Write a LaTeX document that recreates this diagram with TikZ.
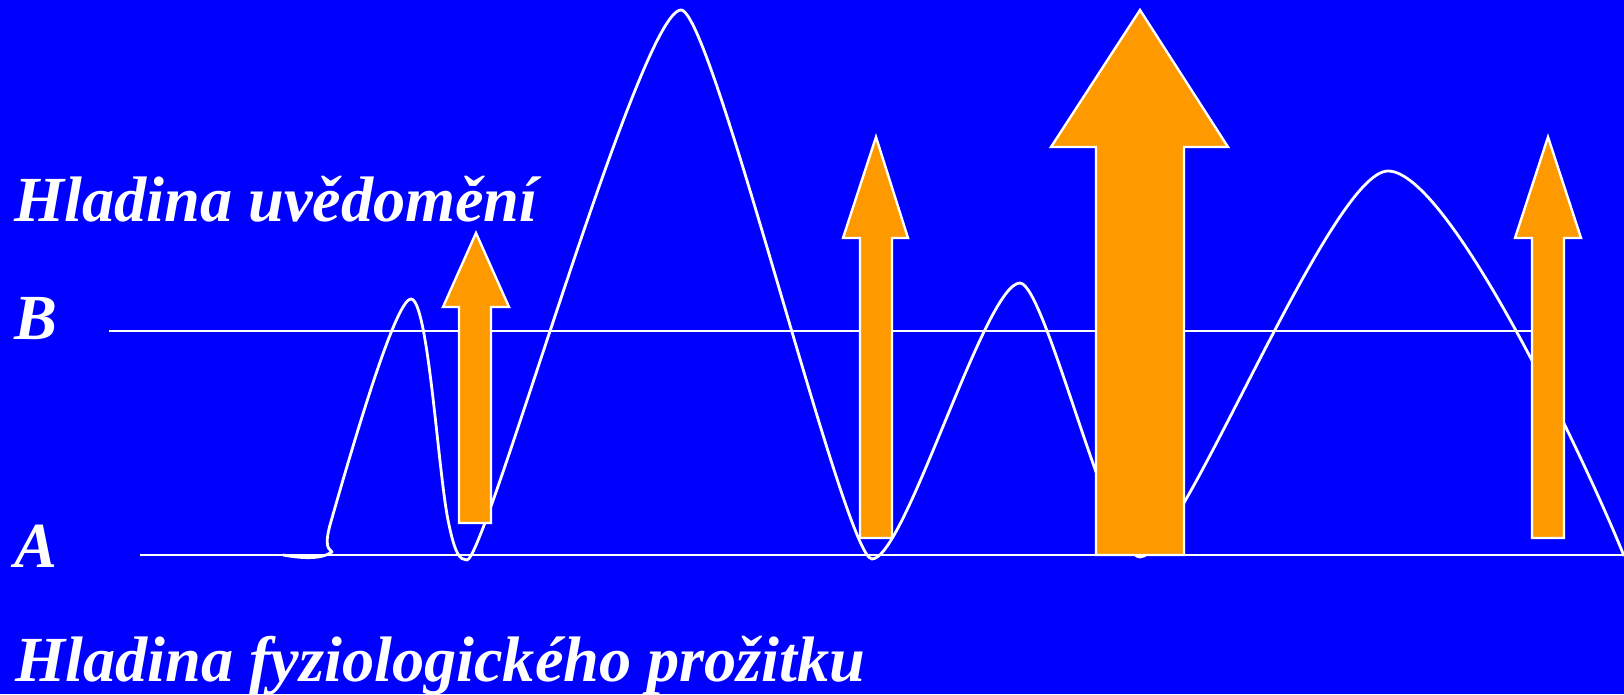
\documentclass[tikz,border=0pt]{standalone}
\usepackage{fontspec}
\setmainfont{Liberation Serif}
\definecolor{bgblue}{RGB}{0,0,255}
\definecolor{arrorange}{RGB}{255,153,0}
\begin{document}
\begin{tikzpicture}[x=1pt,y=-1pt,
  wline/.style={draw=white,line width=2.8pt},
  orangearrow/.style={fill=arrorange,draw=white,line width=2.4pt,line join=miter},
  lbl/.style={text=white,font=\fontsize{64.3}{70}\selectfont\bfseries\itshape,anchor=base west,inner sep=0pt}]
\fill[bgblue] (0,0) rectangle (1624,694);
\useasboundingbox (0,0) rectangle (1624,694);
% level lines
\coordinate (Bl) at (109,331); \coordinate (Br) at (1545,331);
\coordinate (Al) at (140,555); \coordinate (Ar) at (1624,555);
\draw[wline] (Bl) -- (Br);
\draw[wline] (Al) -- (Ar);
% wave
\draw[wline,line join=round]
  (283,555) .. controls (300,558) and (320,560) .. (332,552)
  .. controls (326,548) and (326,540) .. (330,525)
  .. controls (350,455) and (395,299) .. (411,299)
  .. controls (428,299) and (438,470) .. (448,520)
  .. controls (455,555) and (460,560) .. (467,560)
  .. controls (485,560) and (640,10) .. (681,10)
  .. controls (712,10) and (845,559) .. (872,559)
  .. controls (905,559) and (985,283) .. (1020,283)
  .. controls (1045,283) and (1110,557) .. (1140,557)
  .. controls (1180,557) and (1330,171) .. (1388,171)
  .. controls (1450,171) and (1590,471) .. (1624,556);
% arrows
\draw[orangearrow] (476,233) -- (509,307) -- (491,307) -- (491,523) -- (459,523) -- (459,307) -- (443,307) -- cycle;
\draw[orangearrow] (876,137) -- (908,238) -- (892,238) -- (892,538) -- (860,538) -- (860,238) -- (843,238) -- cycle;
\draw[orangearrow] (1140,10) -- (1228,147) -- (1184,147) -- (1184,555) -- (1096,555) -- (1096,147) -- (1051,147) -- cycle;
\draw[orangearrow] (1548,137) -- (1581,238) -- (1564,238) -- (1564,538) -- (1532,538) -- (1532,238) -- (1515,238) -- cycle;
% labels
\node[lbl] (top) at (14,221) {Hladina uvědomění};
\node[lbl] (lb) at (14,339) {B};
\node[lbl] (la) at (14,567) {A};
\node[lbl] (bot) at (15,681) {Hladina fyziologického prožitku};
\end{tikzpicture}
\end{document}
